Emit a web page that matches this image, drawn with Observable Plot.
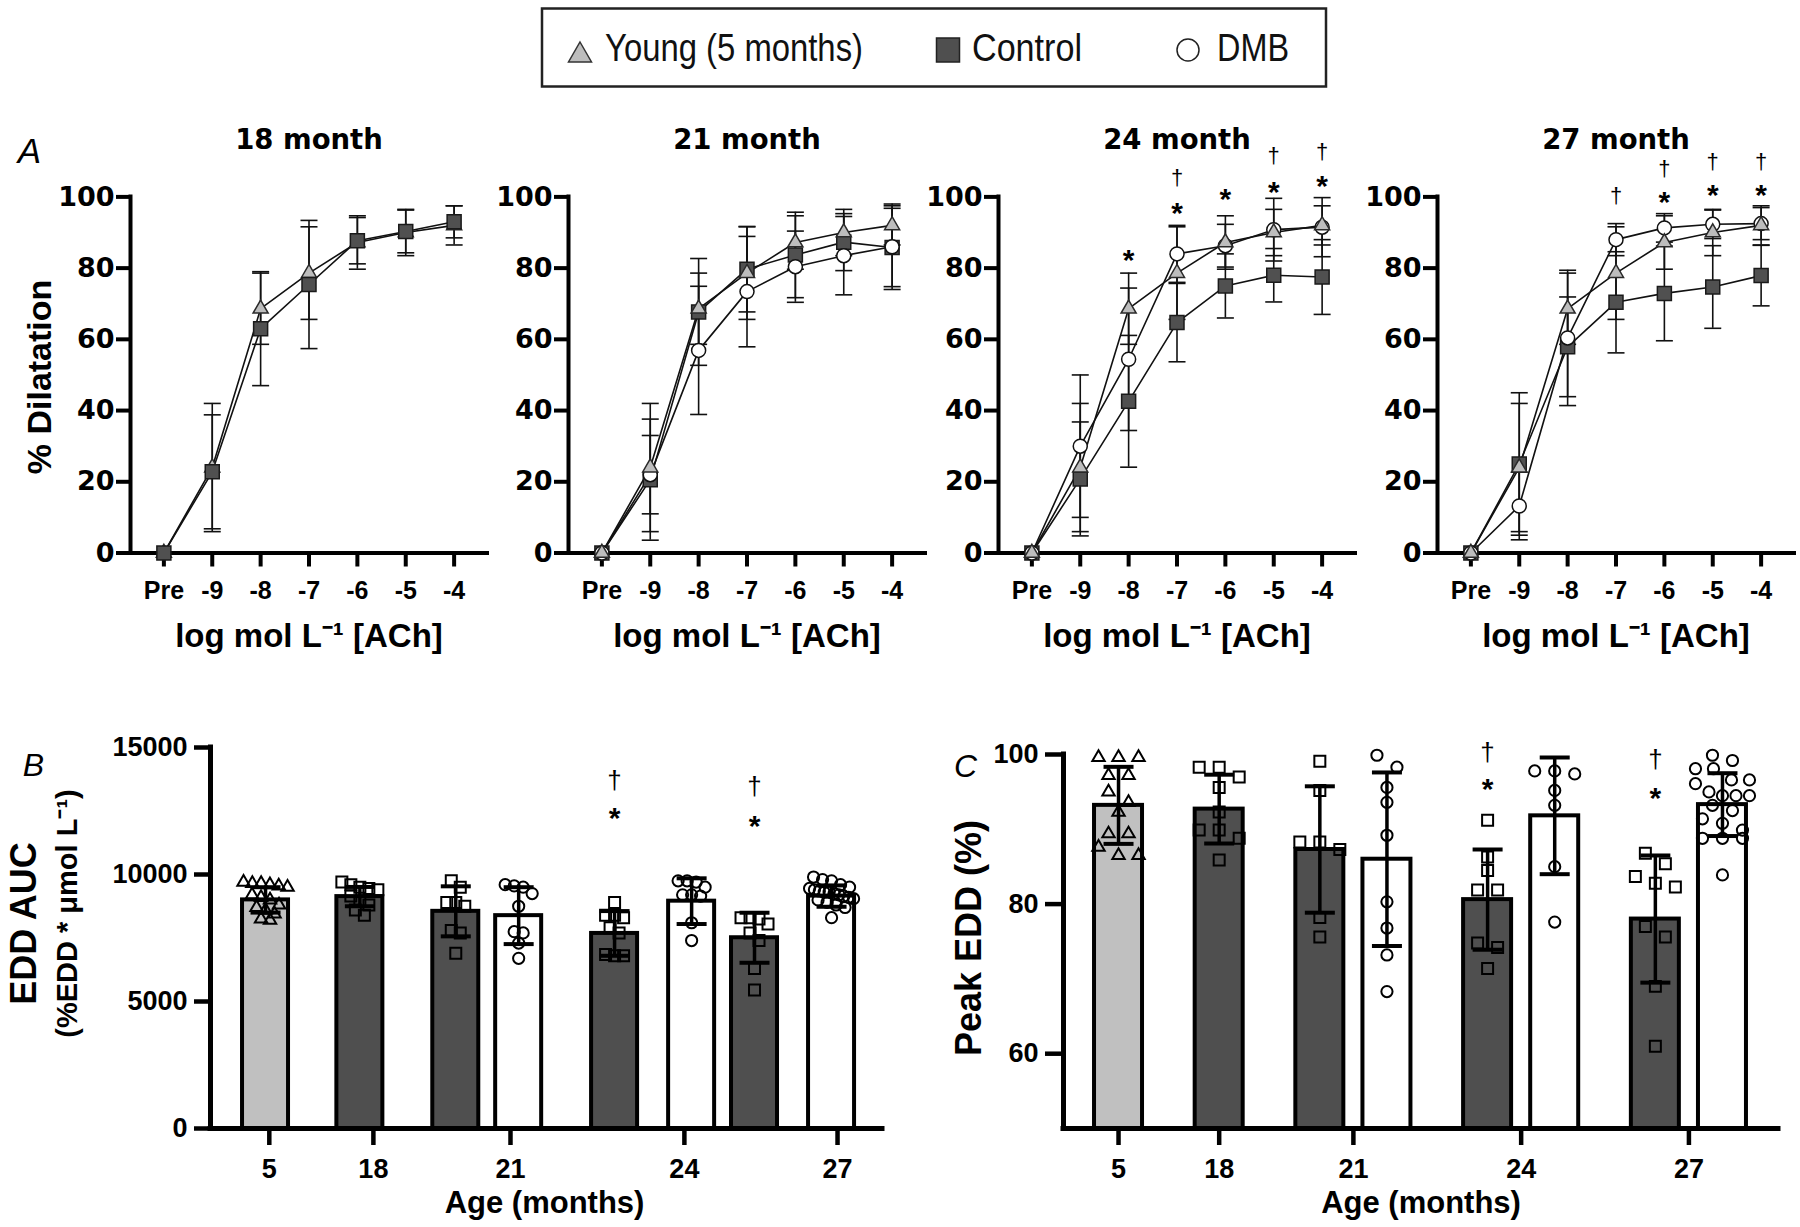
<!DOCTYPE html>
<html>
<head>
<meta charset="utf-8">
<script src="https://cdn.jsdelivr.net/npm/d3@7"></script>
<script src="https://cdn.jsdelivr.net/npm/@observablehq/plot@0.6"></script>
<style>
  html, body { margin: 0; padding: 0; background: #fff; }
  #root { position: relative; width: 1800px; height: 1227px; overflow: hidden; background: #fff; }
</style>
</head>
<body>
<div id="root"></div>
<script>
// ================= DATA =================
// Panel A: concentration-response curves
const doses = ["Pre", "-9", "-8", "-7", "-6", "-5", "-4"];
const panelAges = [18, 21, 24, 27];
const panelTitles = ["18 month", "21 month", "24 month", "27 month"];
const seriesNames = ["Young (5 months)", "Control", "DMB"];

const youngMean = [0, 24.0, 68.6, 78.6, 87.2, 90.0, 92.0];
const youngSd   = [0, 18, 10, 13, 7.5, 6.5, 5.5];

const control18Mean = [0, 22.8, 63.0, 75.4, 87.7, 90.3, 93.0];
const control18Sd   = [0, 16, 16, 18, 6.5, 6, 4.5];
const control21Mean = [0, 20.6, 67.7, 79.7, 83.7, 87.3, 85.8];
const control21Sd   = [0, 17, 15, 12, 12, 8, 11];
const control24Mean = [0, 20.8, 42.6, 64.7, 75.0, 78.0, 77.5];
const control24Sd   = [0, 16, 18.5, 11, 9, 7.5, 10.5];
const control27Mean = [0, 25.0, 57.9, 70.4, 72.9, 74.7, 77.9];
const control27Sd   = [0, 20, 14, 14.2, 13.3, 11.6, 8.5];

const dmb21Mean = [0, 22.0, 56.9, 73.4, 80.4, 83.5, 86.0];
const dmb21Sd   = [0, 11, 18, 15.5, 10, 11, 12];
const dmb24Mean = [0, 30.0, 54.4, 84.0, 86.3, 90.8, 91.5];
const dmb24Sd   = [0, 20, 20, 8, 6, 8.8, 8.3];
const dmb27Mean = [0, 13.2, 60.4, 88.0, 91.3, 92.3, 92.5];
const dmb27Sd   = [0, 9.5, 19, 4.5, 4, 4, 4.5];

// significance annotations in panel A (value = % Dilatation level of the mark)
const sigAAge   = [24, 24, 24, 24, 24, 24, 24, 24, 27, 27, 27, 27, 27, 27, 27];
const sigADose  = ["-8", "-7", "-7", "-6", "-5", "-5", "-4", "-4", "-7", "-6", "-6", "-5", "-5", "-4", "-4"];
const sigAMark  = ["*", "†", "*", "*", "†", "*", "†", "*", "†", "†", "*", "†", "*", "†", "*"];
const sigAValue = [84.4, 105, 97.5, 101.5, 111.3, 103.5, 112.3, 105, 100, 107.5, 100.5, 109.5, 102.5, 109.5, 102.5];

// Panels B & C: bars by age group
const barAge   = ["5", "18", "21", "21", "24", "24", "27", "27"];
const barGroup = ["Young", "Control", "Control", "DMB", "Control", "DMB", "Control", "DMB"];

const aucMean = [9000, 9130, 8550, 8380, 7680, 8950, 7510, 9150];
const aucSd   = [500, 380, 985, 1120, 880, 900, 985, 420];
const aucPoints = [
  [9700, 9650, 9650, 9600, 9550, 9500, 9200, 9100, 9000, 8800, 8700, 8600, 8450, 8250, 8200],
  [9700, 9600, 9500, 9450, 9400, 9150, 8950, 8800, 8600, 8400],
  [9750, 9500, 8900, 8900, 8750, 7800, 7700, 6900],
  [9600, 9550, 9500, 9250, 8750, 7750, 7700, 7300, 6700],
  [8900, 8400, 8400, 8300, 7900, 7700, 6850, 6800, 6800],
  [9750, 9750, 9700, 9500, 9200, 9200, 9150, 8100, 7400],
  [8300, 8300, 8250, 8050, 7700, 7400, 6300, 5450],
  [9900, 9800, 9750, 9600, 9500, 9450, 9400, 9350, 9300, 9300, 9250, 9200, 9150, 9100, 9050, 9000, 8900, 8800, 8700, 8300]
];
const aucSigBar   = [4, 4, 6, 6];
const aucSigMark  = ["†", "*", "†", "*"];
const aucSigValue = [13630, 12490, 13410, 12170];

const peakMean = [93.2, 92.7, 87.3, 86.0, 80.6, 91.8, 78.0, 93.3];
const peakSd   = [5.15, 4.6, 8.45, 11.6, 6.7, 7.8, 8.5, 4.2];
const peakPoints = [
  [99.6, 99.6, 99.6, 97.2, 97.2, 95.0, 93.6, 92.3, 89.4, 89.4, 87.6, 86.5, 86.5],
  [98.3, 98.3, 97.0, 95.6, 92.3, 89.9, 89.9, 88.8, 85.9],
  [99.1, 95.2, 88.3, 88.3, 87.3, 78.2, 75.6],
  [99.9, 98.3, 95.6, 93.6, 89.2, 80.3, 76.8, 73.2, 68.3],
  [91.2, 86.3, 84.5, 81.9, 81.9, 74.8, 74.2, 71.4],
  [97.8, 97.8, 97.4, 95.2, 93.2, 85.0, 77.6],
  [86.8, 85.4, 83.7, 82.8, 82.3, 77.0, 75.6, 69.0, 61.0],
  [99.9, 99.2, 98.1, 98.1, 96.6, 96.6, 96.1, 95.0, 94.5, 94.5, 94.5, 93.2, 92.5, 91.4, 90.8, 89.9, 88.8, 88.8, 88.8, 83.9]
];
const peakSigBar   = [4, 4, 6, 6];
const peakSigMark  = ["†", "*", "†", "*"];
const peakSigValue = [100.1, 96.3, 99.2, 95.2];

// ================= STYLE / LAYOUT =================
const FONT = "'Liberation Sans', Arial, Helvetica, sans-serif";
const WIDE = "'DejaVu Sans', Verdana, sans-serif";
const root = document.getElementById("root");
const capSymbol = { draw(ctx, size) { const w = Math.sqrt(size / Math.PI); ctx.moveTo(-w, 0); ctx.lineTo(w, 0); } };
const markerA = {
  Young:   { symbol: d3.symbolTriangle, r: 5.6, fill: "#bdbdbd", stroke: "#2a2a2a" },
  Control: { symbol: d3.symbolSquare,   r: 7.9, fill: "#505050", stroke: "#1a1a1a" },
  DMB:     { symbol: d3.symbolCircle,   r: 7.0, fill: "#ffffff", stroke: "#111111" }
};
const openSymbol = {
  Young:   { symbol: d3.symbolTriangle, r: 4.6 },
  Control: { symbol: d3.symbolSquare,   r: 6.2 },
  DMB:     { symbol: d3.symbolCircle,   r: 5.6 }
};
const barFill = { Young: "#c0c0c0", Control: "#4f4f4f", DMB: "#ffffff" };
const svgStyle = { background: "transparent", overflow: "visible", fontFamily: FONT, color: "#000" };

function place(node, left, top) {
  node.style.position = "absolute";
  node.style.left = left + "px";
  node.style.top = top + "px";
  root.appendChild(node);
}
// glyph-centre corrections for annotation marks (in em)
const glyphDy = { "*": 0.25, "†": -0.05 };

// ================= PANEL A =================
const panelSeries = {
  18: { Young: [youngMean, youngSd], Control: [control18Mean, control18Sd] },
  21: { Young: [youngMean, youngSd], Control: [control21Mean, control21Sd], DMB: [dmb21Mean, dmb21Sd] },
  24: { Young: [youngMean, youngSd], Control: [control24Mean, control24Sd], DMB: [dmb24Mean, dmb24Sd] },
  27: { Young: [youngMean, youngSd], Control: [control27Mean, control27Sd], DMB: [dmb27Mean, dmb27Sd] }
};
const drawOrder = { 18: ["Young", "Control"], 21: ["Control", "DMB", "Young"], 24: ["Control", "DMB", "Young"], 27: ["Control", "DMB", "Young"] };
const axisXA = [130, 568, 998, 1437];
const LA = { width: 495, height: 560, ml: 130, mr: 8, mt: 96.4, mb: 107.5, top: 100, xDomain: [-0.69, 6.69] };

panelAges.forEach((age, k) => {
  const rows = [];
  for (const s of Object.keys(panelSeries[age])) {
    const [m, sd] = panelSeries[age][s];
    m.forEach((v, i) => rows.push({ series: s, i, v, sd: sd[i] }));
  }
  const err = rows.filter(d => d.sd > 0);
  const caps = err.flatMap(d => [{ i: d.i, y: d.v + d.sd }, { i: d.i, y: d.v - d.sd }]);
  const sig = sigAAge.map((a, j) => ({ a, i: doses.indexOf(sigADose[j]), t: sigAMark[j], v: sigAValue[j] })).filter(d => d.a === age);
  const fsSig = { "*": 30, "†": 22 };

  const plot = Plot.plot({
    width: LA.width, height: LA.height,
    marginLeft: LA.ml, marginRight: LA.mr, marginTop: LA.mt, marginBottom: LA.mb,
    style: svgStyle,
    x: { type: "linear", domain: LA.xDomain, axis: null },
    y: { domain: [0, 100], axis: null },
    marks: [
      Plot.axisY({ ticks: d3.range(0, 101, 20), tickSize: 14, tickPadding: 2, strokeWidth: 4, fontSize: 27, fontWeight: "bold", fontFamily: WIDE, label: null }),
      Plot.axisX({ ticks: d3.range(doses.length), tickFormat: i => doses[i], tickSize: 14, tickPadding: 14, strokeWidth: 4, fontSize: 25, fontWeight: "bold", label: null }),
      Plot.ruleY([0], { stroke: "#000", strokeWidth: 4, strokeLinecap: "square" }),
      Plot.ruleX([LA.xDomain[0]], { y1: 0, y2: 100, stroke: "#000", strokeWidth: 4, strokeLinecap: "square" }),
      Plot.ruleX(err, { x: "i", y1: d => d.v - d.sd, y2: d => d.v + d.sd, stroke: "#111", strokeWidth: 1.6 }),
      Plot.dot(caps, { x: "i", y: "y", symbol: capSymbol, r: 8.5, fill: "none", stroke: "#111", strokeWidth: 1.6 }),
      Plot.line(rows, { x: "i", y: "v", z: "series", stroke: "#111", strokeWidth: 1.6 }),
      ...drawOrder[age].map(s => Plot.dot(rows.filter(d => d.series === s), {
        x: "i", y: "v", symbol: markerA[s].symbol, r: markerA[s].r, fill: markerA[s].fill, stroke: markerA[s].stroke, strokeWidth: 1.5
      })),
      ...["*", "†"].map(t => Plot.text(sig.filter(d => d.t === t), {
        x: "i", y: "v", text: "t", lineAnchor: "middle", fontSize: fsSig[t], fontWeight: t === "*" ? "bold" : "normal", dy: glyphDy[t] * fsSig[t]
      })),
      Plot.text([panelTitles[k]], { frameAnchor: "top", dy: -56.4, lineAnchor: "middle", fontSize: 27.5, fontWeight: "bold", fontFamily: WIDE }),
      Plot.text(["log mol L\u207B\u00B9 [ACh]"], { frameAnchor: "bottom", dy: 83.5, lineAnchor: "middle", fontSize: 33, fontWeight: "bold" }),
      ...(k === 0 ? [
        Plot.text(["% Dilatation"], { frameAnchor: "left", dx: -90, dy: 2, rotate: -90, textAnchor: "middle", lineAnchor: "middle", fontSize: 34, fontWeight: "bold" }),
        Plot.text(["A"], { frameAnchor: "top-left", dx: -101, dy: -44.8, lineAnchor: "middle", textAnchor: "middle", fontSize: 35, fontStyle: "italic" })
      ] : [])
    ]
  });
  place(plot, axisXA[k] - LA.ml, LA.top);
});

// ================= PANELS B & C =================
// default bar layout: 2 slots between bars of one age group, 3 between groups
function slotsFor(ages) { let s = -3, prev = null; return ages.map(a => { s += (a === prev ? 2 : 3); prev = a; return s; }); }

function spread(values, pxPerUnit, gapPx, stepPx, maxHalfPx) {
  const sorted = values.slice().sort((a, b) => b - a);
  const rows = [];
  for (const v of sorted) {
    const row = rows[rows.length - 1];
    if (row && (row[0] - v) * pxPerUnit < gapPx) row.push(v); else rows.push([v]);
  }
  const out = [];
  for (const row of rows) {
    const n = row.length;
    const step = n > 1 ? Math.min(stepPx, 2 * maxHalfPx / (n - 1)) : 0;
    row.forEach((v, j) => out.push({ v, off: (j - (n - 1) / 2) * step }));
  }
  return out;
}

function barPanel(o) {
  const slots = o.slots || slotsFor(barAge);
  const fw = o.width - o.ml - o.mr, fh = o.height - o.mt - o.mb;
  const pxPerSlot = fw / (o.xDomain[1] - o.xDomain[0]);
  const pxPerUnit = fh / (o.yDomain[1] - o.yDomain[0]);
  const hw = (o.barPx / 2) / pxPerSlot;
  const bars = barAge.map((a, i) => ({ age: a, group: barGroup[i], slot: slots[i], mean: o.mean[i], sd: o.sd[i] }));
  const pts = [];
  bars.forEach((b, i) => spread(o.points[i], pxPerUnit, o.gapPx, o.stepPx, o.maxHalfPx)
    .forEach(p => pts.push({ group: b.group, x: b.slot + p.off / pxPerSlot, v: p.v })));
  const caps = bars.flatMap(b => [{ slot: b.slot, y: b.mean + b.sd }, { slot: b.slot, y: b.mean - b.sd }]);
  const groupsOrder = [...new Set(barAge)];
  const tickPos = o.tickSlots || groupsOrder.map(a => d3.mean(slots.filter((_, i) => barAge[i] === a)));
  const tickLabel = new Map(tickPos.map((p, j) => [p, groupsOrder[j]]));
  const sig = o.sigBar.map((b, j) => ({ slot: slots[b], t: o.sigMark[j], v: o.sigValue[j] }));
  const fsSig = { "*": 30, "†": 26 };

  const plot = Plot.plot({
    width: o.width, height: o.height,
    marginLeft: o.ml, marginRight: o.mr, marginTop: o.mt, marginBottom: o.mb,
    style: svgStyle,
    x: { type: "linear", domain: o.xDomain, axis: null },
    y: { domain: o.yDomain, axis: null },
    color: { type: "identity" },
    marks: [
      Plot.rect(bars, { x1: d => d.slot - hw, x2: d => d.slot + hw, y1: () => o.yDomain[0], y2: "mean", fill: d => barFill[d.group], stroke: "#000", strokeWidth: 4 }),
      ...Object.keys(openSymbol).map(g => Plot.dot(pts.filter(d => d.group === g), {
        x: "x", y: "v", symbol: openSymbol[g].symbol, r: openSymbol[g].r, fill: "none", stroke: "#000", strokeWidth: 2
      })),
      Plot.ruleX(bars, { x: "slot", y1: d => d.mean - d.sd, y2: d => d.mean + d.sd, stroke: "#000", strokeWidth: 3.5 }),
      Plot.dot(caps, { x: "slot", y: "y", symbol: capSymbol, r: 15, fill: "none", stroke: "#000", strokeWidth: 4 }),
      Plot.axisY({ ticks: o.yTicks, tickFormat: d3.format("d"), tickSize: o.yTickSize, tickPadding: 7, strokeWidth: 4.5, fontSize: 27, fontWeight: "bold", label: null }),
      Plot.axisX({ ticks: tickPos, tickFormat: p => tickLabel.get(p), tickSize: 17, tickPadding: 13, strokeWidth: 4.5, fontSize: 27, fontWeight: "bold", label: null }),
      Plot.ruleY([o.yDomain[0]], { stroke: "#000", strokeWidth: 5, strokeLinecap: "square" }),
      Plot.ruleX([o.xDomain[0]], { y1: o.yDomain[0], y2: o.yDomain[1], stroke: "#000", strokeWidth: 5, strokeLinecap: "square" }),
      ...["*", "†"].map(t => Plot.text(sig.filter(d => d.t === t), {
        x: "slot", y: "v", text: "t", lineAnchor: "middle", fontSize: fsSig[t], fontWeight: t === "*" ? "bold" : "normal", dy: glyphDy[t] * fsSig[t]
      })),
      Plot.text(["Age (months)"], { frameAnchor: "bottom", dy: 75, dx: o.xLabelDx, lineAnchor: "middle", fontSize: 31, fontWeight: "bold" }),
      ...o.yLabels.map(l => Plot.text([l.text], { frameAnchor: "left", dx: l.dx, dy: l.dy, rotate: -90, textAnchor: "middle", lineAnchor: "middle", fontSize: l.fs, fontWeight: "bold" })),
      Plot.text([o.letter], { frameAnchor: "top-left", dx: o.letterDx, dy: o.letterDy, lineAnchor: "middle", textAnchor: "middle", fontSize: 32, fontStyle: "italic" })
    ]
  });
  place(plot, o.left, o.top);
}

barPanel({
  left: 0, top: 720, width: 900, height: 507, ml: 210, mr: 18, mt: 27, mb: 99,
  xDomain: [-1.75, 19.62], yDomain: [0, 15000], yTicks: [0, 5000, 10000, 15000], yTickSize: 16,
  // panel B's bars and tick labels are laid out slightly unevenly in the original figure
  slots: [0, 3, 6.05, 8.05, 11.1, 13.55, 15.55, 18],
  tickSlots: [0.12, 3.43, 7.79, 13.32, 18.19],
  barPx: 46, gapPx: 11, stepPx: 9, maxHalfPx: 22,
  mean: aucMean, sd: aucSd, points: aucPoints,
  sigBar: aucSigBar, sigMark: aucSigMark, sigValue: aucSigValue,
  xLabelDx: -2,
  yLabels: [
    { text: "EDD AUC", dx: -186.5, dy: -14.5, fs: 36 },
    { text: "(%EDD * \u03BCmol L\u207B\u00B9)", dx: -143, dy: -24.5, fs: 29 }
  ],
  letter: "B", letterDx: -177, letterDy: 18
});

barPanel({
  left: 900, top: 720, width: 900, height: 507, ml: 163, mr: 22, mt: 34, mb: 99,
  xDomain: [-1.64, 19.67], yDomain: [50, 100], yTicks: [60, 80, 100], yTickSize: 18,
  barPx: 48, gapPx: 12, stepPx: 20, maxHalfPx: 27,
  mean: peakMean, sd: peakSd, points: peakPoints,
  sigBar: peakSigBar, sigMark: peakSigMark, sigValue: peakSigValue,
  xLabelDx: 0,
  yLabels: [{ text: "Peak EDD (%)", dx: -94.5, dy: -3.5, fs: 36 }],
  letter: "C", letterDx: -98, letterDy: 12
});

// ================= LEGEND (above the charts) =================
const NS = "http://www.w3.org/2000/svg";
const leg = document.createElementNS(NS, "svg");
leg.setAttribute("width", 1800); leg.setAttribute("height", 100);
leg.style.fontFamily = FONT;
const legItems = [
  { name: seriesNames[0], tx: 605, tw: 258, shape: `<path d="M580,42 L591.5,62 L568.5,62 Z" fill="#bdbdbd" stroke="#333" stroke-width="1.5"/>` },
  { name: seriesNames[1], tx: 972, tw: 110, shape: `<rect x="936.5" y="38" width="23" height="24" fill="#4f4f4f" stroke="#222" stroke-width="1.5"/>` },
  { name: seriesNames[2], tx: 1217, tw: 72, shape: `<circle cx="1188" cy="50" r="11" fill="#fff" stroke="#222" stroke-width="1.5"/>` }
];
leg.innerHTML = `<rect x="542" y="8.5" width="784" height="78" fill="#fff" stroke="#222" stroke-width="2.5"/>` +
  legItems.map(it => it.shape + `<text x="${it.tx}" y="61" font-size="38" textLength="${it.tw}" lengthAdjust="spacingAndGlyphs" fill="#111">${it.name}</text>`).join("");
place(leg, 0, 0);
</script>
</body>
</html>
